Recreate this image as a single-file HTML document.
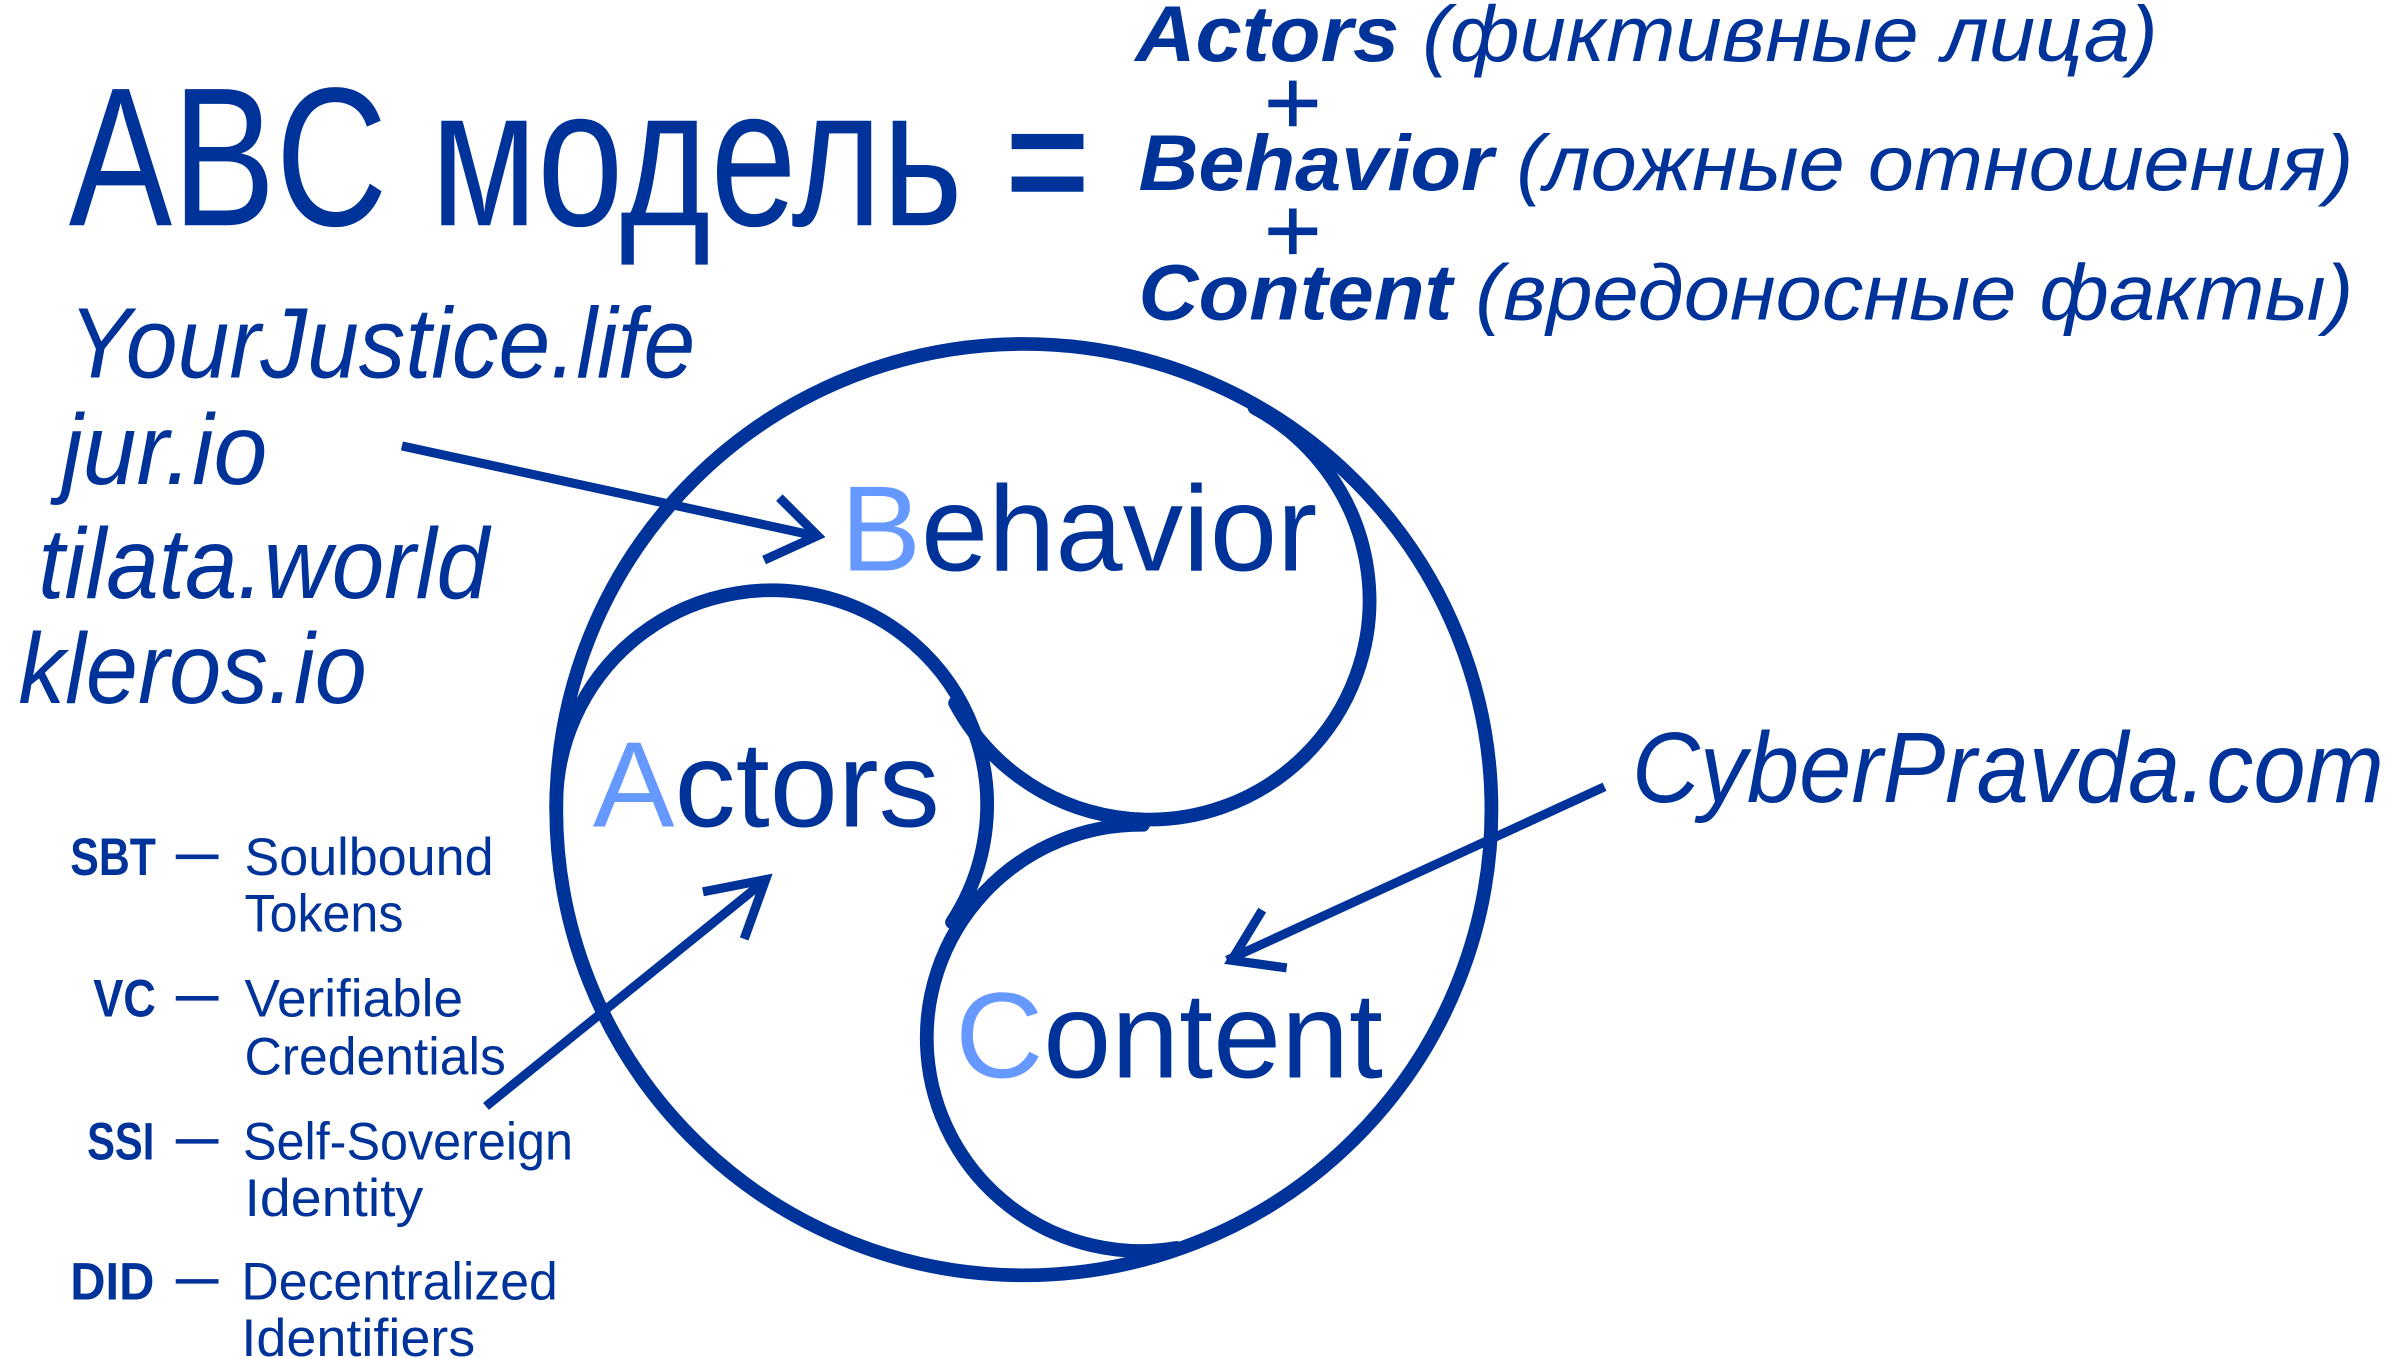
<!DOCTYPE html>
<html><head><meta charset="utf-8"><style>html,body{margin:0;padding:0;background:#fff}svg{display:block}</style></head>
<body>
<svg width="2390" height="1359" viewBox="0 0 1564 893" preserveAspectRatio="none" xmlns="http://www.w3.org/2000/svg">
<g fill="#003399" font-family="'Liberation Sans', sans-serif">
<text x="45" y="148" font-size="130" textLength="585" lengthAdjust="spacingAndGlyphs">ABC модель</text>
<rect x="662" y="88" width="47" height="10"/>
<rect x="662" y="116" width="47" height="10"/>
<text x="743" y="40" font-size="52" font-style="italic" textLength="669" lengthAdjust="spacingAndGlyphs"><tspan font-weight="bold">Actors</tspan> (фиктивные лица)</text>
<text x="745" y="125" font-size="52" font-style="italic" textLength="795" lengthAdjust="spacingAndGlyphs"><tspan font-weight="bold">Behavior</tspan> (ложные отношения)</text>
<text x="745" y="210" font-size="52" font-style="italic" textLength="795" lengthAdjust="spacingAndGlyphs"><tspan font-weight="bold">Content</tspan> (вредоносные факты)</text>
<text x="45" y="248" font-size="66" font-style="italic" textLength="410" lengthAdjust="spacingAndGlyphs">YourJustice.life</text>
<text x="40" y="318" font-size="66" font-style="italic" textLength="135" lengthAdjust="spacingAndGlyphs">jur.io</text>
<text x="25" y="393" font-size="66" font-style="italic" textLength="295" lengthAdjust="spacingAndGlyphs">tilata.world</text>
<text x="12" y="462" font-size="66" font-style="italic" textLength="228" lengthAdjust="spacingAndGlyphs">kleros.io</text>
<text x="1068" y="527" font-size="66" font-style="italic" textLength="492" lengthAdjust="spacingAndGlyphs">CyberPravda.com</text>
<text x="550" y="375" font-size="80" textLength="312" lengthAdjust="spacingAndGlyphs"><tspan fill="#6699ff">B</tspan>ehavior</text>
<text x="388" y="543" font-size="80" textLength="227" lengthAdjust="spacingAndGlyphs"><tspan fill="#6699ff">A</tspan>ctors</text>
<text x="625" y="708" font-size="80" textLength="280" lengthAdjust="spacingAndGlyphs"><tspan fill="#6699ff">C</tspan>ontent</text>
<g font-size="35">
<text x="46" y="575" font-weight="bold" textLength="56" lengthAdjust="spacingAndGlyphs">SBT</text>
<text x="160" y="575" textLength="163" lengthAdjust="spacingAndGlyphs">Soulbound</text>
<text x="160" y="612" textLength="104" lengthAdjust="spacingAndGlyphs">Tokens</text>
<text x="61" y="668" font-weight="bold" textLength="41" lengthAdjust="spacingAndGlyphs">VC</text>
<text x="160" y="668" textLength="143" lengthAdjust="spacingAndGlyphs">Verifiable</text>
<text x="160" y="706" textLength="171" lengthAdjust="spacingAndGlyphs">Credentials</text>
<text x="57" y="762" font-weight="bold" textLength="44" lengthAdjust="spacingAndGlyphs">SSI</text>
<text x="159" y="762" textLength="216" lengthAdjust="spacingAndGlyphs">Self-Sovereign</text>
<text x="160" y="799" textLength="117" lengthAdjust="spacingAndGlyphs">Identity</text>
<text x="46" y="854" font-weight="bold" textLength="55" lengthAdjust="spacingAndGlyphs">DID</text>
<text x="158" y="854" textLength="207" lengthAdjust="spacingAndGlyphs">Decentralized</text>
<text x="158" y="891" textLength="153" lengthAdjust="spacingAndGlyphs">Identifiers</text>
</g>
</g>
<g stroke="#003399" fill="none" stroke-width="3">
<line x1="115" y1="563" x2="143" y2="563"/>
<line x1="115" y1="656" x2="143" y2="656"/>
<line x1="115" y1="750" x2="143" y2="750"/>
<line x1="115" y1="842" x2="143" y2="842"/>
</g>
<g stroke="#003399" fill="none" stroke-width="5">
<line x1="830" y1="68" x2="862" y2="68"/><line x1="846" y1="53" x2="846" y2="83"/>
<line x1="830" y1="152" x2="862" y2="152"/><line x1="846" y1="137" x2="846" y2="167"/>
</g>
<g stroke="#003399" fill="none" stroke-width="9" stroke-linecap="round">
<circle cx="670" cy="532" r="306"/>
<path d="M364,532 A141,141 0 1,1 623,606"/>
<path d="M748,542 A140,140 0 1,0 770,820"/>
<path d="M625,462 A144,144 0 1,0 821,268"/>
</g>
<g stroke="#003399" fill="none" stroke-width="6">
<line x1="263" y1="293" x2="533" y2="352"/>
<polyline points="510,327 535,352 500,368"/>
<line x1="318" y1="727" x2="499" y2="580"/>
<polyline points="460,586 501,578 487,617"/>
<line x1="1050" y1="517" x2="803" y2="631"/>
<polyline points="826,598 806,631 842,636"/>
</g>
</svg>
</body></html>
